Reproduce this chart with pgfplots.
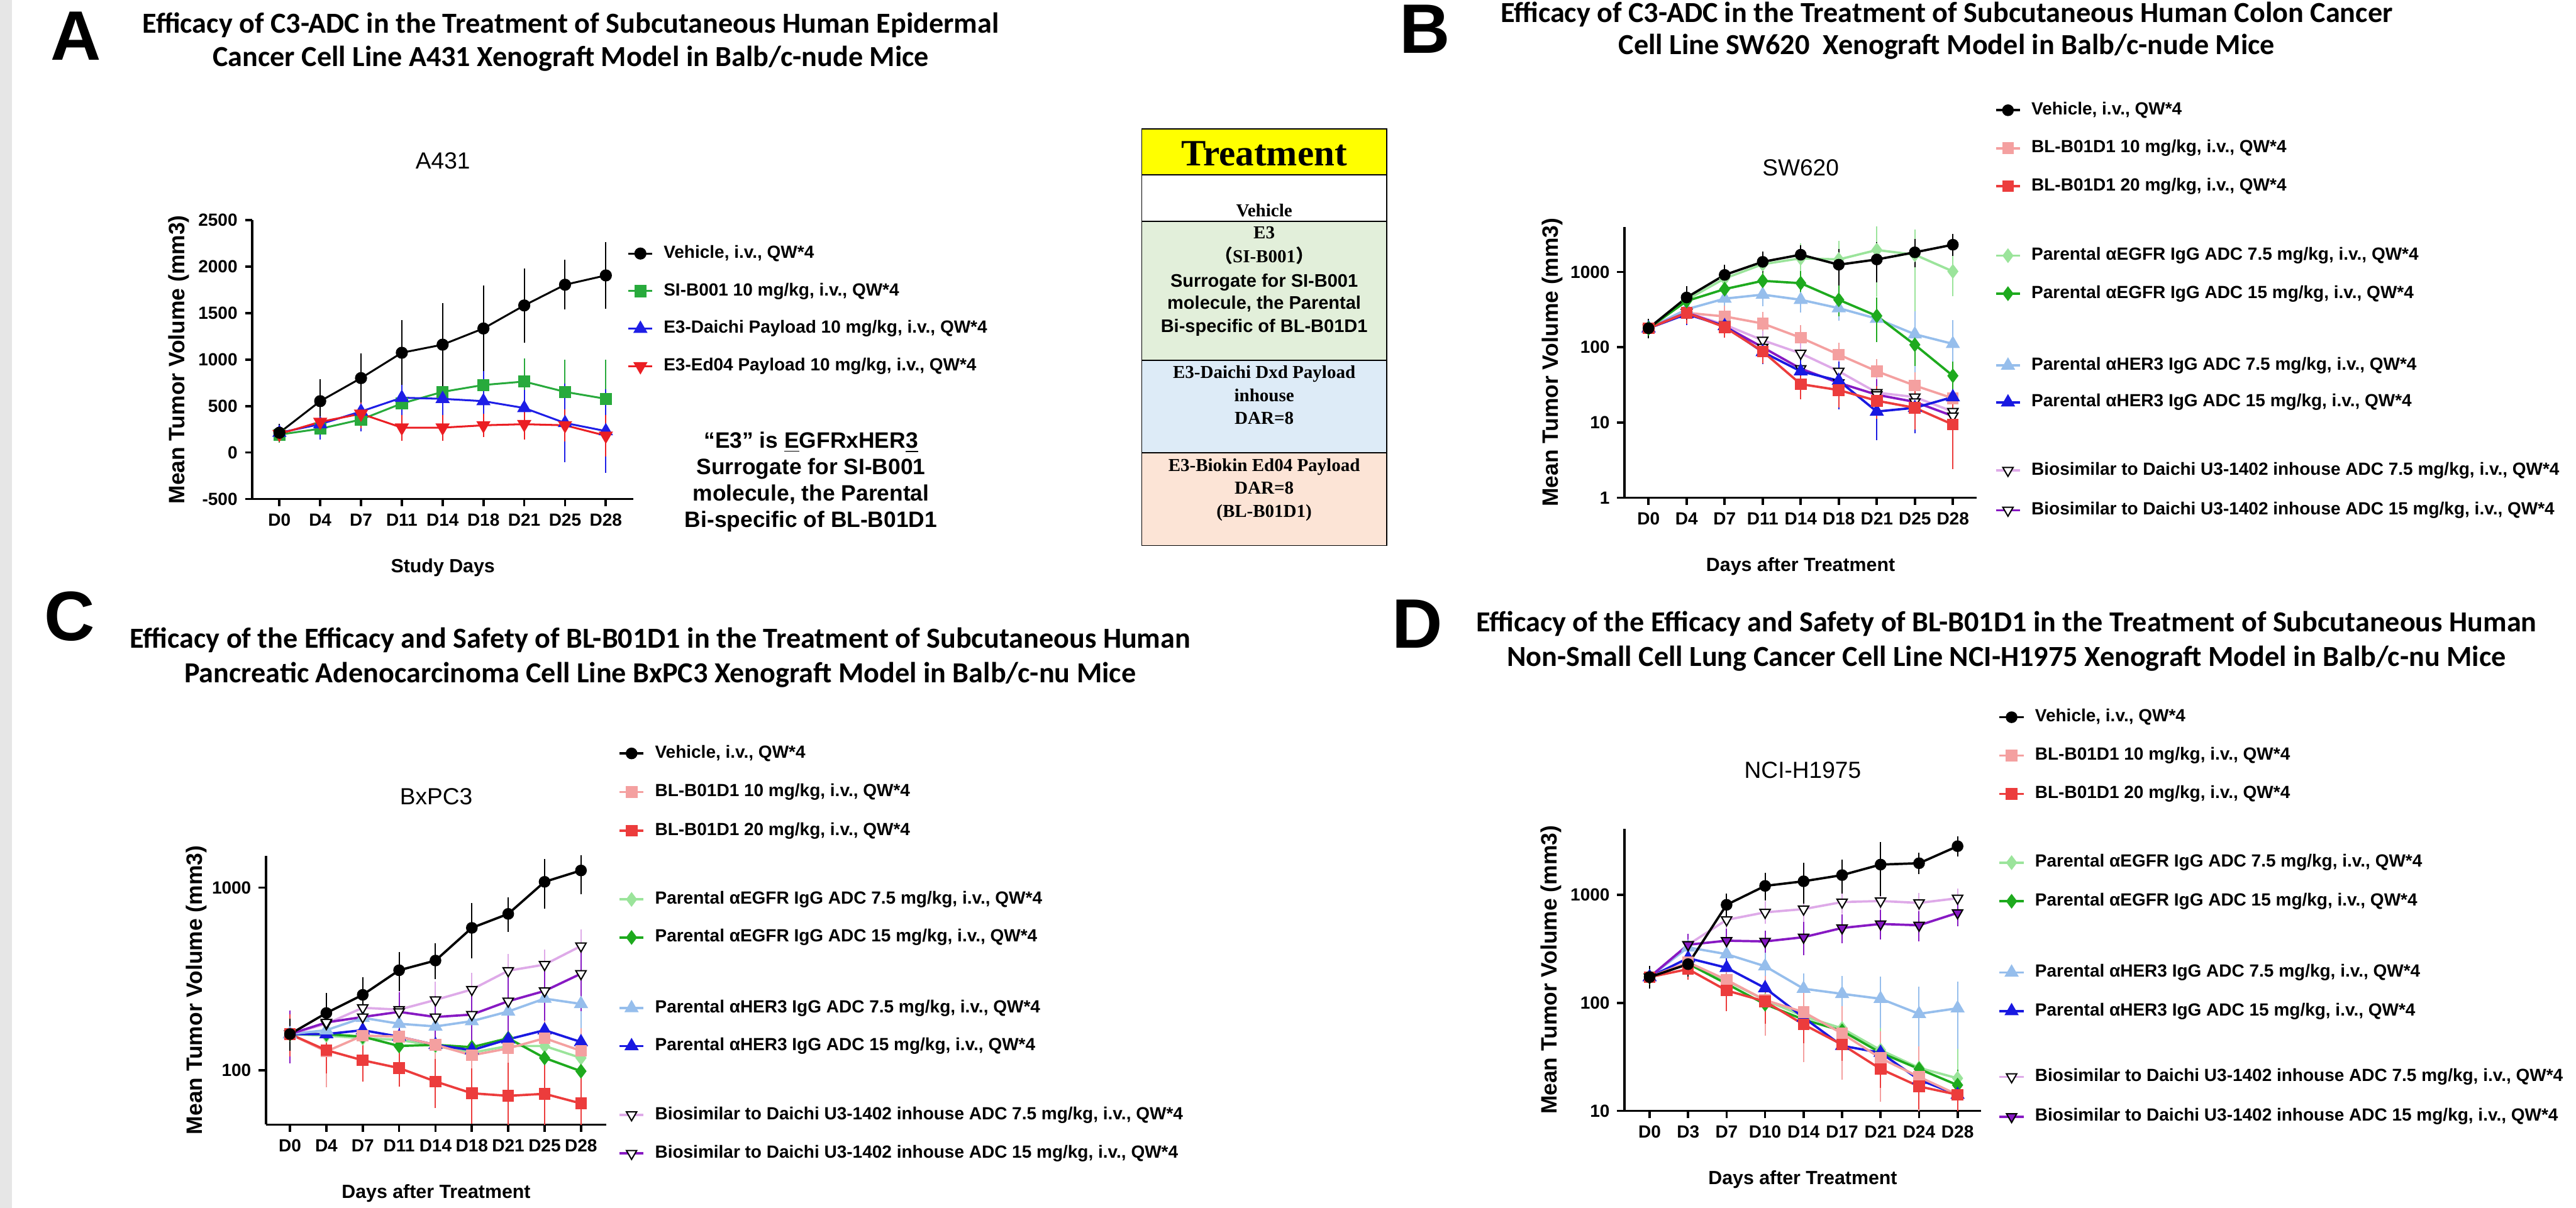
\documentclass[border=0pt]{standalone}
\usepackage{pgfplots}
\pgfplotsset{compat=1.18}
\usepackage{fontspec}
\setmainfont{Liberation Sans}
\newfontfamily\carl{Carlito}
\newfontfamily\tnr{Liberation Serif}
\newfontfamily\cjk{Noto Sans CJK SC}
\newcommand{\fsz}[2]{\fontsize{#1pt}{#2pt}\selectfont}

\definecolor{cSI}{RGB}{40,170,60}
\definecolor{cDai}{RGB}{30,30,230}
\definecolor{cEd}{RGB}{235,30,35}
\definecolor{cP10}{RGB}{244,160,160}
\definecolor{cP20}{RGB}{236,60,60}
\definecolor{cEG7}{RGB}{155,228,155}
\definecolor{cEG15}{RGB}{30,170,30}
\definecolor{cH7}{RGB}{150,190,236}
\definecolor{cH15}{RGB}{25,25,225}
\definecolor{cB7}{RGB}{222,170,232}
\definecolor{cB15}{RGB}{135,25,195}
\definecolor{tabY}{RGB}{255,255,0}
\definecolor{tabG}{RGB}{226,239,218}
\definecolor{tabB}{RGB}{221,235,247}
\definecolor{tabP}{RGB}{252,228,214}
\definecolor{stripe}{RGB}{230,230,230}

\pgfplotsset{
  sVeh/.style={black, line width=0.9pt, mark=*, mark size=2.4pt},
  sSI/.style={cSI, line width=0.9pt, mark=square*, mark size=2.4pt},
  sDai/.style={cDai, line width=0.9pt, mark=triangle*, mark size=3pt},
  sEd/.style={cEd, line width=0.9pt, mark=triangle*, mark size=3pt, mark options={rotate=180}},
  sVeh2/.style={black, line width=1.1pt, mark=*, mark size=2.2pt},
  sP10/.style={cP10, line width=1.1pt, mark=square*, mark size=2.2pt},
  sP20/.style={cP20, line width=1.1pt, mark=square*, mark size=2.2pt},
  sEG7/.style={cEG7, line width=1.1pt, mark=diamond*, mark size=2.6pt},
  sEG15/.style={cEG15, line width=1.1pt, mark=diamond*, mark size=2.6pt},
  sH7/.style={cH7, line width=1.1pt, mark=triangle*, mark size=2.8pt},
  sH15/.style={cH15, line width=1.1pt, mark=triangle*, mark size=2.8pt},
  sB7/.style={cB7, line width=1.1pt, mark=triangle*, mark size=2.8pt, mark options={rotate=180, fill=white, draw=black, line width=0.6pt}},
  sB15/.style={cB15, line width=1.1pt, mark=triangle*, mark size=2.8pt, mark options={rotate=180, fill=white, draw=black, line width=0.6pt}},
  sB15f/.style={cB15, line width=1.1pt, mark=triangle*, mark size=2.8pt, mark options={rotate=180, fill=cB15, draw=black, line width=0.6pt}},
  panel/.style={
    scale only axis,
    axis x line*=bottom, axis y line*=left,
    axis line style={line width=1.1pt},
    tick style={line width=1.1pt, black},
    tick align=outside, major tick length=0.12cm,
    minor tick style={draw=none},
    xtick={0,...,8},
    /pgf/number format/assume math mode=true,
    ticklabel style={font=\bfseries\fsz{8.3}{9}},
    ylabel={Mean Tumor Volume (mm3)},
    ylabel style={font=\bfseries\fsz{10.5}{12}, at={(axis description cs:#1,0.5)}, anchor=center},
    xlabel style={font=\bfseries\fsz{9}{10}, at={(axis description cs:0.5,0)}, anchor=center, yshift=-1.14cm},
    title style={font=\fsz{11}{12}, at={(axis description cs:0.5,1)}, anchor=center, yshift=0.77cm},
    every axis plot/.append style={error bars/y dir=both, error bars/y explicit,
      error bars/error bar style={line width=0.6pt},
      error bars/error mark options={mark size=2.8pt, line width=0.6pt}},
  },
  legax/.style={hide axis, scale only axis, width=1cm, height=1cm,
    xmin=0, xmax=1, ymin=0, ymax=1, anchor=north west,
    legend style={at={(0,1)}, anchor=north west, draw=none, fill=none,
      inner sep=0pt, font=\bfseries\fsz{8.3}{9}, row sep=#1, column sep=0.17cm,
      nodes={inner sep=0pt, text height=0.21cm, text depth=0.06cm}},
    legend cell align=left,
    legend image code/.code={\draw[mark repeat=2,mark phase=2] plot coordinates {(0cm,0cm)(0.2cm,0cm)(0.4cm,0cm)};}},
}

\begin{document}
\begin{tikzpicture}
\path[use as bounding box] (0,0) rectangle (42.69,-20.02);
\fill[stripe] (0,0) rectangle (0.2,-20.02);

% ---------- panel letters and titles
\node[anchor=base, font=\bfseries\fsz{33}{36}] at (1.26,-1.00) {A};
\node[anchor=base, font=\bfseries\fsz{33}{36}] at (23.61,-0.88) {B};
\node[anchor=base, font=\bfseries\fsz{33}{36}] at (1.15,-10.61) {C};
\node[anchor=base, font=\bfseries\fsz{33}{36}] at (23.49,-10.74) {D};

\begin{scope}[every node/.style={anchor=base, font=\carl\bfseries\fsz{13.7}{16}}]
\node at (9.46,-0.55) {Efficacy of C3-ADC in the Treatment of Subcutaneous Human Epidermal};
\node at (9.46,-1.10) {Cancer Cell Line A431 Xenograft Model in Balb/c-nude Mice};
\node at (32.26,-0.37) {Efficacy of C3-ADC in the Treatment of Subcutaneous Human Colon Cancer};
\node at (32.26,-0.90) {Cell Line SW620\ \ Xenograft Model in Balb/c-nude Mice};
\node at (10.94,-10.74) {Efficacy of the Efficacy and Safety of BL-B01D1 in the Treatment of Subcutaneous Human};
\node at (10.94,-11.31) {Pancreatic Adenocarcinoma Cell Line BxPC3 Xenograft Model in Balb/c-nu Mice};
\node at (33.25,-10.47) {Efficacy of the Efficacy and Safety of BL-B01D1 in the Treatment of Subcutaneous Human};
\node at (33.25,-11.04) {Non-Small Cell Lung Cancer Cell Line NCI-H1975 Xenograft Model in Balb/c-nu Mice};
\end{scope}

% ---------- E3 note
\begin{scope}[every node/.style={anchor=base, font=\bfseries\fsz{10.5}{12.5}}]
\node at (13.44,-7.43) {“E3” is \underline{E}GFRxHER\underline{3}};
\node at (13.44,-7.86) {Surrogate for SI-B001};
\node at (13.44,-8.30) {molecule, the Parental};
\node at (13.44,-8.74) {Bi-specific of BL-B01D1};
\end{scope}

% ---------- treatment table
\fill[tabY] (18.92,-2.135) rectangle (22.98,-2.90);
\fill[white] (18.92,-2.90) rectangle (22.98,-3.666);
\fill[tabG] (18.92,-3.666) rectangle (22.98,-5.97);
\fill[tabB] (18.92,-5.97) rectangle (22.98,-7.505);
\fill[tabP] (18.92,-7.505) rectangle (22.98,-9.04);
\draw[line width=0.5pt] (18.92,-2.135) rectangle (22.98,-9.04);
\foreach \yy in {-2.90,-3.666,-5.97,-7.505} \draw[line width=0.5pt] (18.92,\yy) -- (22.98,\yy);
\node[anchor=base, font=\tnr\bfseries\fsz{17.5}{20}] at (20.95,-2.75) {Treatment};
\begin{scope}[every node/.style={anchor=base, font=\tnr\bfseries\fsz{8.6}{10}}]
\node at (20.95,-3.59) {Vehicle};
\node at (20.95,-3.95) {E3};
\node at (20.95,-4.35) {{\cjk （}SI-B001{\cjk ）}};
\node[font=\bfseries\fsz{8.6}{10}] at (20.95,-4.76) {Surrogate for SI-B001};
\node[font=\bfseries\fsz{8.6}{10}] at (20.95,-5.12) {molecule, the Parental};
\node[font=\bfseries\fsz{8.6}{10}] at (20.95,-5.51) {Bi-specific of BL-B01D1};
\node at (20.95,-6.27) {E3-Daichi Dxd Payload};
\node at (20.95,-6.65) {inhouse};
\node at (20.95,-7.03) {DAR=8};
\node at (20.95,-7.81) {E3-Biokin Ed04 Payload};
\node at (20.95,-8.19) {DAR=8};
\node at (20.95,-8.57) {(BL-B01D1)};
\end{scope}

% ================= Panel A
\begin{axis}[panel=-0.193, at={(4.18cm,-8.27cm)}, anchor=south west,
  width=6.32cm, height=4.62cm,
  xmin=-0.666, xmax=8.68, ymin=-500, ymax=2500,
  ytick={-500,0,500,1000,1500,2000,2500},
  yticklabels={-500,0,500,1000,1500,2000,2500},
  xticklabels={D0,D4,D7,D11,D14,D18,D21,D25,D28},
  title={A431}, xlabel={Study Days}]
\addplot[sSI] coordinates {(0,193)+-(0,25) (1,256)+-(0,40) (2,355)+-(0,50) (3,528)+-(0,100) (4,653)+-(0,124) (5,727)+-(0,149) (6,764)+-(0,186) (7,653)+-(0,280) (8,578)+-(0,355)};
\addplot[sDai] coordinates {(0,213)+-(0,25) (1,305)+-(0,100) (2,442)+-(0,150) (3,590)+-(0,260) (4,578)+-(0,211) (5,553)+-(0,286) (6,479)+-(0,130) (7,318)+-(0,360) (8,231)+-(0,385)};
\addplot[sEd] coordinates {(0,200)+-(0,20) (1,330)+-(0,60) (2,417)+-(0,90) (3,268)+-(0,75) (4,268)+-(0,75) (5,293)+-(0,60) (6,305)+-(0,100) (7,293)+-(0,110) (8,181)+-(0,160)};
\addplot[sVeh] coordinates {(0,213)+-(0,30) (1,553)+-(0,175) (2,801)+-(0,200) (3,1074)+-(0,285) (4,1161)+-(0,385) (5,1335)+-(0,397) (6,1583)+-(0,335) (7,1806)+-(0,204) (8,1906)+-(0,297)};
\end{axis}
\begin{axis}[legax=0.353cm, at={(10.39cm,-4.06cm)}]
\addlegendimage{sVeh}\addlegendentry{Vehicle, i.v., QW*4}
\addlegendimage{sSI}\addlegendentry{SI-B001 10 mg/kg, i.v., QW*4}
\addlegendimage{sDai}\addlegendentry{E3-Daichi Payload 10 mg/kg, i.v., QW*4}
\addlegendimage{sEd}\addlegendentry{E3-Ed04 Payload 10 mg/kg, i.v., QW*4}
\end{axis}

% ================= Panel B
\begin{axis}[panel=-0.204, at={(26.92cm,-8.25cm)}, anchor=south west,
  width=5.84cm, height=4.49cm, ymode=log,
  xmin=-0.635, xmax=8.63, ymin=1, ymax=3981,
  ytick={1,10,100,1000}, yticklabels={1,10,100,1000},
  xticklabels={D0,D4,D7,D11,D14,D18,D21,D25,D28},
  title={SW620}, xlabel={Days after Treatment}]
\addplot[sEG7] coordinates {(0,179)+-(0,20) (1,427)+-(0,60) (2,822)+-(0,120) (3,1270)+-(0,200) (4,1524)+-(0,500) (5,1470)+-(0,700) (6,1963)+-(0,1400) (7,1700)+-(0,1350) (8,1020)+-(0,450)};
\addplot[sH7] coordinates {(0,179)+-(0,20) (1,320)+-(0,50) (2,443)+-(0,60) (3,501)+-(0,80) (4,428)+-(0,80) (5,331)+-(0,60) (6,240)+-(0,60) (7,149)+-(0,100) (8,111)+-(0,80)};
\addplot[sP10] coordinates {(0,179)+-(0,20) (1,287)+-(0,40) (2,257)+-(0,40) (3,207)+-(0,40) (4,134)+-(0,30) (5,80)+-(0,15) (6,48)+-(0,10) (7,31)+-(0,8) (8,21)+-(0,5)};
\addplot[sB7] coordinates {(0,179)+-(0,20) (1,290)+-(0,40) (2,200)+-(0,25) (3,124)+-(0,15) (4,83)+-(0,15) (5,48)+-(0,10) (6,25)+-(0,8) (7,21.8)+-(0,8) (8,14)+-(0,5)};
\addplot[sB15] coordinates {(0,179)+-(0,20) (1,290)+-(0,40) (2,190)+-(0,25) (3,100)+-(0,15) (4,52)+-(0,10) (5,33.7)+-(0,8) (6,23.4)+-(0,8) (7,18.8)+-(0,8) (8,12.2)+-(0,4)};
\addplot[sH15] coordinates {(0,179)+-(0,20) (1,276)+-(0,40) (2,192)+-(0,25) (3,86.6)+-(0,15) (4,48)+-(0,10) (5,36)+-(0,18) (6,14)+-(0,7) (7,15.7)+-(0,7) (8,21.8)+-(0,8)};
\addplot[sP20] coordinates {(0,179)+-(0,20) (1,287)+-(0,40) (2,185)+-(0,25) (3,88)+-(0,15) (4,32.4)+-(0,8) (5,27)+-(0,8) (6,19.5)+-(0,6) (7,15.7)+-(0,6) (8,9.4)+-(0,6.5)};
\addplot[sEG15] coordinates {(0,179)+-(0,20) (1,412)+-(0,60) (2,593)+-(0,80) (3,764)+-(0,100) (4,711)+-(0,150) (5,428)+-(0,120) (6,261)+-(0,120) (7,108)+-(0,40) (8,41.8)+-(0,12)};
\addplot[sVeh2] coordinates {(0,179)+-(0,20) (1,459)+-(0,80) (2,916)+-(0,120) (3,1367)+-(0,180) (4,1700)+-(0,200) (5,1252)+-(0,450) (6,1469)+-(0,600) (7,1828)+-(0,450) (8,2307)+-(0,350)};
\end{axis}
\begin{axis}[legax=0.36cm, at={(33.05cm,-1.685cm)}]
\addlegendimage{sVeh2}\addlegendentry{Vehicle, i.v., QW*4}
\addlegendimage{sP10}\addlegendentry{BL-B01D1 10 mg/kg, i.v., QW*4}
\addlegendimage{sP20}\addlegendentry{BL-B01D1 20 mg/kg, i.v., QW*4}
\end{axis}
\begin{axis}[legax=0.36cm, at={(33.05cm,-4.095cm)}]
\addlegendimage{sEG7}\addlegendentry{Parental αEGFR IgG ADC 7.5 mg/kg, i.v., QW*4}
\addlegendimage{sEG15}\addlegendentry{Parental αEGFR IgG ADC 15 mg/kg, i.v., QW*4}
\end{axis}
\begin{axis}[legax=0.34cm, at={(33.05cm,-5.915cm)}]
\addlegendimage{sH7}\addlegendentry{Parental αHER3 IgG ADC 7.5 mg/kg, i.v., QW*4}
\addlegendimage{sH15}\addlegendentry{Parental αHER3 IgG ADC 15 mg/kg, i.v., QW*4}
\end{axis}
\begin{axis}[legax=0.39cm, at={(33.05cm,-7.655cm)}]
\addlegendimage{sB7}\addlegendentry{Biosimilar to Daichi U3-1402 inhouse ADC 7.5 mg/kg, i.v., QW*4}
\addlegendimage{sB15}\addlegendentry{Biosimilar to Daichi U3-1402 inhouse ADC 15 mg/kg, i.v., QW*4}
\end{axis}

% ================= Panel C
\begin{axis}[panel=-0.203, at={(4.406cm,-18.64cm)}, anchor=south west,
  width=5.644cm, height=4.46cm, ymode=log,
  xmin=-0.663, xmax=8.70, ymin=50.5, ymax=1496,
  ytick={100,1000}, yticklabels={100,1000},
  xticklabels={D0,D4,D7,D11,D14,D18,D21,D25,D28},
  title={BxPC3}, xlabel={Days after Treatment}]
\addplot[sEG7] coordinates {(0,158)+-(0,40) (1,155)+-(0,30) (2,150)+-(0,30) (3,147)+-(0,30) (4,136)+-(0,30) (5,125)+-(0,30) (6,136)+-(0,30) (7,136)+-(0,30) (8,117)+-(0,25)};
\addplot[sEG15] coordinates {(0,158)+-(0,40) (1,158)+-(0,30) (2,153)+-(0,30) (3,136)+-(0,30) (4,138)+-(0,30) (5,134)+-(0,30) (6,150)+-(0,40) (7,117)+-(0,30) (8,99)+-(0,15)};
\addplot[sH15] coordinates {(0,158)+-(0,40) (1,158)+-(0,50) (2,166)+-(0,40) (3,153)+-(0,40) (4,138)+-(0,20) (5,129)+-(0,40) (6,148)+-(0,40) (7,166)+-(0,40) (8,143)+-(0,45)};
\addplot[sH7] coordinates {(0,158)+-(0,40) (1,166)+-(0,40) (2,194)+-(0,40) (3,180)+-(0,40) (4,174)+-(0,40) (5,186)+-(0,40) (6,210)+-(0,45) (7,247)+-(0,60) (8,231)+-(0,60)};
\addplot[sP10] coordinates {(0,158)+-(0,30) (1,127)+-(0,40) (2,155)+-(0,35) (3,153)+-(0,30) (4,138)+-(0,30) (5,121)+-(0,35) (6,132)+-(0,40) (7,150)+-(0,35) (8,128)+-(0,30)};
\addplot[sB7] coordinates {(0,158)+-(0,40) (1,180)+-(0,40) (2,220)+-(0,40) (3,215)+-(0,40) (4,243)+-(0,40) (5,277)+-(0,40) (6,351)+-(0,50) (7,379)+-(0,45) (8,479)+-(0,70)};
\addplot[sB15] coordinates {(0,158)+-(0,40) (1,183)+-(0,50) (2,196)+-(0,40) (3,209)+-(0,40) (4,196)+-(0,40) (5,202)+-(0,60) (6,239)+-(0,70) (7,272)+-(0,70) (8,338)+-(0,110)};
\addplot[sP20] coordinates {(0,158)+-(0,30) (1,129)+-(0,25) (2,113.6)+-(0,20) (3,103)+-(0,15) (4,87)+-(0,20) (5,75)+-(0,20) (6,72.6)+-(0,30) (7,74.5)+-(0,30) (8,66)+-(0,20)};
\addplot[sVeh2] coordinates {(0,158)+-(0,20) (1,206)+-(0,40) (2,259)+-(0,40) (3,353)+-(0,60) (4,399)+-(0,60) (5,602)+-(0,160) (6,718)+-(0,100) (7,1075)+-(0,250) (8,1240)+-(0,250)};
\end{axis}
\begin{axis}[legax=0.37cm, at={(10.24cm,-12.345cm)}]
\addlegendimage{sVeh2}\addlegendentry{Vehicle, i.v., QW*4}
\addlegendimage{sP10}\addlegendentry{BL-B01D1 10 mg/kg, i.v., QW*4}
\addlegendimage{sP20}\addlegendentry{BL-B01D1 20 mg/kg, i.v., QW*4}
\end{axis}
\begin{axis}[legax=0.36cm, at={(10.24cm,-14.765cm)}]
\addlegendimage{sEG7}\addlegendentry{Parental αEGFR IgG ADC 7.5 mg/kg, i.v., QW*4}
\addlegendimage{sEG15}\addlegendentry{Parental αEGFR IgG ADC 15 mg/kg, i.v., QW*4}
\end{axis}
\begin{axis}[legax=0.36cm, at={(10.24cm,-16.565cm)}]
\addlegendimage{sH7}\addlegendentry{Parental αHER3 IgG ADC 7.5 mg/kg, i.v., QW*4}
\addlegendimage{sH15}\addlegendentry{Parental αHER3 IgG ADC 15 mg/kg, i.v., QW*4}
\end{axis}
\begin{axis}[legax=0.37cm, at={(10.24cm,-18.335cm)}]
\addlegendimage{sB7}\addlegendentry{Biosimilar to Daichi U3-1402 inhouse ADC 7.5 mg/kg, i.v., QW*4}
\addlegendimage{sB15}\addlegendentry{Biosimilar to Daichi U3-1402 inhouse ADC 15 mg/kg, i.v., QW*4}
\end{axis}

% ================= Panel D
\begin{axis}[panel=-0.205, at={(26.92cm,-18.41cm)}, anchor=south west,
  width=5.91cm, height=4.67cm, ymode=log,
  xmin=-0.654, xmax=8.61, ymin=10, ymax=4064,
  ytick={10,100,1000}, yticklabels={10,100,1000},
  xticklabels={D0,D3,D7,D10,D14,D17,D21,D24,D28},
  title={NCI-H1975}, xlabel={Days after Treatment}]
\addplot[sH7] coordinates {(0,173)+-(0,20) (1,326)+-(0,40) (2,282)+-(0,40) (3,218)+-(0,40) (4,135)+-(0,30) (5,121)+-(0,35) (6,109)+-(0,45) (7,79)+-(0,45) (8,89)+-(0,50)};
\addplot[sEG7] coordinates {(0,173)+-(0,20) (1,235)+-(0,30) (2,160)+-(0,40) (3,106)+-(0,35) (4,75)+-(0,20) (5,58)+-(0,20) (6,36.5)+-(0,15) (7,25)+-(0,10) (8,20)+-(0,13)};
\addplot[sEG15] coordinates {(0,173)+-(0,20) (1,230)+-(0,30) (2,150)+-(0,40) (3,97)+-(0,25) (4,70)+-(0,15) (5,55)+-(0,15) (6,34.5)+-(0,10) (7,24.4)+-(0,7) (8,17.3)+-(0,4)};
\addplot[sH15] coordinates {(0,173)+-(0,20) (1,259)+-(0,30) (2,211)+-(0,25) (3,137)+-(0,20) (4,73)+-(0,15) (5,40)+-(0,10) (6,34.5)+-(0,12) (7,19.4)+-(0,4) (8,14.1)+-(0,3)};
\addplot[sP10] coordinates {(0,173)+-(0,20) (1,237)+-(0,30) (2,163)+-(0,40) (3,106)+-(0,50) (4,82)+-(0,50) (5,52)+-(0,30) (6,30.7)+-(0,17) (7,20.6)+-(0,14) (8,14.1)+-(0,4)};
\addplot[sP20] coordinates {(0,173)+-(0,20) (1,205)+-(0,20) (2,130)+-(0,35) (3,103)+-(0,30) (4,63)+-(0,15) (5,41)+-(0,8) (6,24.4)+-(0,6) (7,16.8)+-(0,5) (8,14.1)+-(0,3)};
\addplot[sB7] coordinates {(0,173)+-(0,20) (1,345)+-(0,40) (2,586)+-(0,60) (3,688)+-(0,80) (4,737)+-(0,100) (5,856)+-(0,100) (6,876)+-(0,120) (7,841)+-(0,80) (8,929)+-(0,80)};
\addplot[sB15f] coordinates {(0,173)+-(0,20) (1,345)+-(0,40) (2,376)+-(0,50) (3,370)+-(0,40) (4,405)+-(0,90) (5,493)+-(0,90) (6,537)+-(0,100) (7,522)+-(0,100) (8,680)+-(0,100)};
\addplot[sVeh2] coordinates {(0,173)+-(0,20) (1,228)+-(0,30) (2,808)+-(0,100) (3,1209)+-(0,200) (4,1334)+-(0,400) (5,1522)+-(0,350) (6,1905)+-(0,800) (7,1960)+-(0,200) (8,2818)+-(0,250)};
\end{axis}
\begin{axis}[legax=0.365cm, at={(33.11cm,-11.745cm)}]
\addlegendimage{sVeh2}\addlegendentry{Vehicle, i.v., QW*4}
\addlegendimage{sP10}\addlegendentry{BL-B01D1 10 mg/kg, i.v., QW*4}
\addlegendimage{sP20}\addlegendentry{BL-B01D1 20 mg/kg, i.v., QW*4}
\end{axis}
\begin{axis}[legax=0.37cm, at={(33.11cm,-14.155cm)}]
\addlegendimage{sEG7}\addlegendentry{Parental αEGFR IgG ADC 7.5 mg/kg, i.v., QW*4}
\addlegendimage{sEG15}\addlegendentry{Parental αEGFR IgG ADC 15 mg/kg, i.v., QW*4}
\end{axis}
\begin{axis}[legax=0.37cm, at={(33.11cm,-15.975cm)}]
\addlegendimage{sH7}\addlegendentry{Parental αHER3 IgG ADC 7.5 mg/kg, i.v., QW*4}
\addlegendimage{sH15}\addlegendentry{Parental αHER3 IgG ADC 15 mg/kg, i.v., QW*4}
\end{axis}
\begin{axis}[legax=0.39cm, at={(33.11cm,-17.705cm)}]
\addlegendimage{sB7}\addlegendentry{Biosimilar to Daichi U3-1402 inhouse ADC 7.5 mg/kg, i.v., QW*4}
\addlegendimage{sB15f}\addlegendentry{Biosimilar to Daichi U3-1402 inhouse ADC 15 mg/kg, i.v., QW*4}
\end{axis}
\end{tikzpicture}
\end{document}
